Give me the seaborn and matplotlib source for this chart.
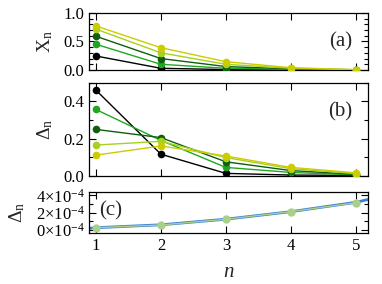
import numpy as np
import pandas as pd
import matplotlib
matplotlib.use("Agg")
import matplotlib.pyplot as plt
import seaborn as sns
from matplotlib.ticker import MultipleLocator, FixedLocator, FuncFormatter

sns.set_theme(style="ticks")
plt.rcParams['font.family'] = ['Liberation Serif', 'DejaVu Serif']
plt.rcParams['mathtext.fontset'] = 'custom'
plt.rcParams['mathtext.rm'] = 'Liberation Serif'
plt.rcParams['mathtext.it'] = 'Liberation Serif:italic'

n = [1, 2, 3, 4, 5]
series = ["s1", "s2", "s3", "s4", "s5"]
colors = ["#000000", "#1fa81f", "#0f5f0f", "#a8d020", "#cccc00"]

# panel (a) X_n
xa = {
    "s1": [0.245, 0.03, 0.008, 0.003, 0.001],
    "s2": [0.45, 0.10, 0.03, 0.01, 0.002],
    "s3": [0.59, 0.20, 0.06, 0.02, 0.004],
    "s4": [0.715, 0.30, 0.10, 0.03, 0.005],
    "s5": [0.77, 0.39, 0.145, 0.04, 0.006],
}
# panel (b) Delta_n
db = {
    "s1": [0.46, 0.116, 0.013, 0.004, 0.002],
    "s2": [0.356, 0.19, 0.045, 0.018, 0.005],
    "s3": [0.249, 0.205, 0.075, 0.028, 0.008],
    "s4": [0.165, 0.185, 0.098, 0.038, 0.012],
    "s5": [0.111, 0.16, 0.106, 0.045, 0.016],
}
# panel (c)
c_n = [1, 2, 3, 4, 5]
c_pts = [0.27e-4, 0.58e-4, 1.24e-4, 2.12e-4, 3.16e-4]
c_fit_n = [0.9, 1, 2, 3, 4, 5, 5.2]
c_fit = [0.2e-4, 0.27e-4, 0.6e-4, 1.25e-4, 2.12e-4, 3.2e-4, 3.55e-4]

def long(d):
    rows = []
    for s in series:
        for x, y in zip(n, d[s]):
            rows.append((s, x, y))
    return pd.DataFrame(rows, columns=["series", "n", "y"])

fig = plt.figure(figsize=(3.82, 2.84), dpi=100)
L, R = 0.234, 0.964
axa = fig.add_axes([L, 0.7535, R - L, 0.955 - 0.7535])
axb = fig.add_axes([L, 0.381, R - L, 0.709 - 0.381])
axc = fig.add_axes([L, 0.1785, R - L, 0.323 - 0.1785])

pal = dict(zip(series, colors))
for ax, d in [(axa, xa), (axb, db)]:
    sns.lineplot(data=long(d), x="n", y="y", hue="series", palette=pal,
                 marker="o", markersize=5.5, markeredgewidth=0, linewidth=1,
                 legend=False, ax=ax, zorder=3)

sns.lineplot(x=c_n, y=c_pts, color="#a8d08a", marker="o", markersize=6,
             markeredgewidth=0, linewidth=1, ax=axc, zorder=3)
sns.lineplot(x=c_fit_n, y=c_fit, color="#3a80d8", linewidth=2, ax=axc, zorder=2)

for ax in (axa, axb, axc):
    ax.set_xlim(0.9, 5.19)
    ax.xaxis.set_major_locator(FixedLocator(n))
    ax.tick_params(direction="in", which="both", top=True, right=True,
                   labelsize=12, width=0.8, colors="black")
    ax.tick_params(which="major", length=5)
    ax.tick_params(which="minor", length=3)
    for sp in ax.spines.values():
        sp.set_linewidth(0.9)
        sp.set_color("black")
    ax.set_xlabel("")

axa.set_ylim(0, 1.0)
axa.yaxis.set_major_locator(MultipleLocator(0.5))
axa.yaxis.set_minor_locator(MultipleLocator(0.1))
axa.set_xticklabels([])
axa.set_ylabel(r"$\mathrm{X_n}$", fontsize=14)
axa.yaxis.set_label_coords(-0.125, 0.5)
axa.text(0.9, 0.5, "(a)", transform=axa.transAxes, fontsize=15, ha="center", va="center")

axb.set_ylim(0, 0.5)
axb.yaxis.set_major_locator(MultipleLocator(0.2))
axb.yaxis.set_minor_locator(MultipleLocator(0.1))
axb.set_xticklabels([])
axb.set_ylabel(r"$\mathrm{\Delta_n}$", fontsize=14)
axb.yaxis.set_label_coords(-0.125, 0.5)
axb.text(0.9, 0.69, "(b)", transform=axb.transAxes, fontsize=15, ha="center", va="center")

axc.set_ylim(-0.38e-4, 4.36e-4)
axc.yaxis.set_major_locator(MultipleLocator(2e-4))
axc.yaxis.set_minor_locator(MultipleLocator(1e-4))
axc.yaxis.set_major_formatter(FuncFormatter(lambda v, p: r"$%d{\times}10^{-4}$" % round(v * 1e4)))
axc.set_ylabel(r"$\mathrm{\Delta_n}$", fontsize=14)
axc.yaxis.set_label_coords(-0.225, 0.5)
axc.text(0.075, 0.55, "(c)", transform=axc.transAxes, fontsize=15, ha="center", va="center")
axc.set_xlabel(r"$n$", fontsize=15, labelpad=6)

fig.savefig("out.png", dpi=100)
